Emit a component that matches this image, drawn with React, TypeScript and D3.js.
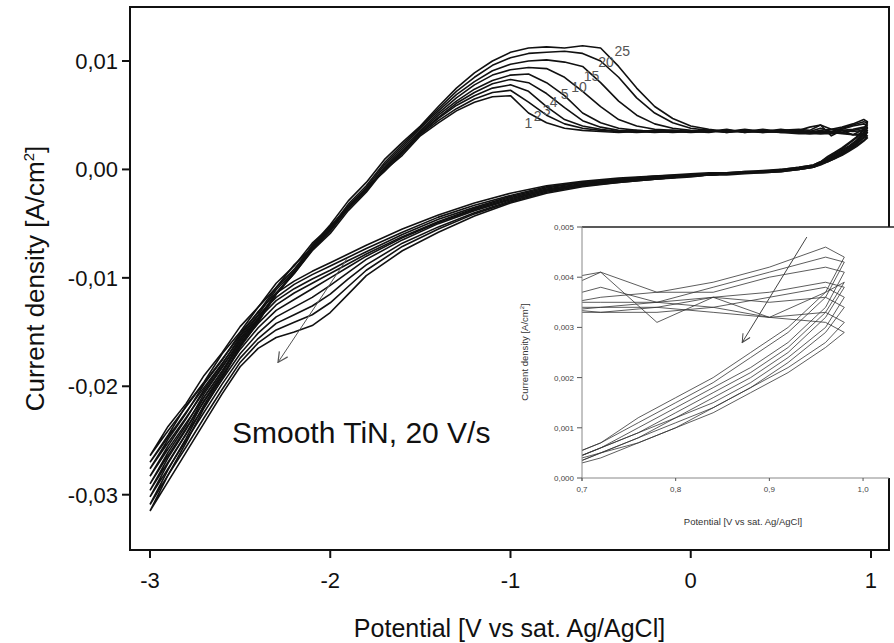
import React from 'react';
import * as d3 from 'd3';

// ---------- DATA ----------
const cycleNames = ["1", "2", "3", "4", "5", "10", "15", "20", "25"];

// potentials of the anodic (forward, -3 V -> ~1 V) half of each cycle
const anodicPotential = [
  -3.0, -2.9, -2.8, -2.7, -2.6, -2.5, -2.4, -2.3, -2.2, -2.1, -2.0, -1.9, -1.8, -1.7, -1.6,
  -1.5, -1.4, -1.3, -1.2, -1.1, -1.0, -0.9, -0.8, -0.7, -0.6, -0.5, -0.4, -0.3, -0.2, -0.1, 0.0,
  0.1, 0.2, 0.3, 0.4, 0.5, 0.6,
  0.66, 0.72, 0.78, 0.84, 0.90, 0.96, 0.98,
];

// potentials of the cathodic (reverse, ~1 V -> -3 V) half of each cycle
const cathodicPotential = [
  0.96, 0.92, 0.88, 0.84, 0.80, 0.76, 0.72, 0.68,
  0.6, 0.5, 0.4, 0.3, 0.2, 0.1, 0.0, -0.2, -0.4, -0.6, -0.8, -1.0, -1.2, -1.4, -1.6,
  -1.8, -1.9, -2.0, -2.1, -2.2, -2.3, -2.4, -2.5, -2.6, -2.7, -2.8, -2.9, -3.0,
];

const anodic1 = [
  -0.0264, -0.0237, -0.0216, -0.0190, -0.0169, -0.0145, -0.0127, -0.0105, -0.0089, -0.0068, -0.0053, -0.0034, -0.0018, -0.0001, 0.0013,
  0.0031, 0.0043, 0.0054, 0.0062, 0.0067, 0.0068, 0.0052, 0.0043, 0.0038, 0.0036, 0.0035, 0.0034, 0.0035, 0.0034, 0.0035, 0.0035,
  0.0036, 0.0035, 0.0037, 0.0035, 0.0036, 0.0037,
  0.0036, 0.0041, 0.0037, 0.0039, 0.0042, 0.0046, 0.0044,
];
const anodic2 = [
  -0.0270, -0.0245, -0.0218, -0.0196, -0.0170, -0.0150, -0.0127, -0.0109, -0.0088, -0.0072, -0.0052, -0.0036, -0.0017, -0.0002, 0.0015,
  0.0032, 0.0045, 0.0056, 0.0065, 0.0071, 0.0073, 0.0062, 0.0050, 0.0042, 0.0038, 0.0036, 0.0035, 0.0034, 0.0035, 0.0035, 0.0034,
  0.0035, 0.0036, 0.0034, 0.0036, 0.0035, 0.0036,
  0.0035, 0.0038, 0.0035, 0.0038, 0.0041, 0.0044, 0.0043,
];
const anodic3 = [
  -0.0276, -0.0249, -0.0225, -0.0198, -0.0176, -0.0151, -0.0132, -0.0109, -0.0092, -0.0071, -0.0055, -0.0035, -0.0019, 0.0001, 0.0016,
  0.0033, 0.0047, 0.0059, 0.0068, 0.0075, 0.0078, 0.0072, 0.0058, 0.0046, 0.0040, 0.0037, 0.0035, 0.0036, 0.0035, 0.0034, 0.0035,
  0.0036, 0.0034, 0.0036, 0.0035, 0.0037, 0.0035,
  0.0034, 0.0036, 0.0037, 0.0037, 0.0040, 0.0042, 0.0041,
];
const anodic4 = [
  -0.0283, -0.0255, -0.0230, -0.0203, -0.0180, -0.0154, -0.0134, -0.0111, -0.0094, -0.0073, -0.0056, -0.0036, -0.0020, 0.0001, 0.0017,
  0.0034, 0.0048, 0.0061, 0.0071, 0.0079, 0.0083, 0.0080, 0.0070, 0.0057, 0.0045, 0.0039, 0.0036, 0.0035, 0.0036, 0.0035, 0.0035,
  0.0035, 0.0036, 0.0035, 0.0037, 0.0035, 0.0036,
  0.0039, 0.0041, 0.0031, 0.0036, 0.0032, 0.0037, 0.0039,
];
const anodic5 = [
  -0.0290, -0.0261, -0.0236, -0.0207, -0.0183, -0.0157, -0.0137, -0.0114, -0.0096, -0.0075, -0.0059, -0.0038, -0.0021, 0.0000, 0.0016,
  0.0035, 0.0050, 0.0063, 0.0074, 0.0082, 0.0087, 0.0088, 0.0080, 0.0068, 0.0052, 0.0043, 0.0038, 0.0036, 0.0035, 0.0036, 0.0035,
  0.0034, 0.0036, 0.0035, 0.0034, 0.0036, 0.0035,
  0.0035, 0.0035, 0.0035, 0.0036, 0.0037, 0.0039, 0.0038,
];
const anodic10 = [
  -0.0296, -0.0266, -0.0240, -0.0210, -0.0186, -0.0159, -0.0138, -0.0115, -0.0096, -0.0074, -0.0057, -0.0036, -0.0019, 0.0002, 0.0019,
  0.0036, 0.0052, 0.0066, 0.0078, 0.0087, 0.0092, 0.0094, 0.0093, 0.0085, 0.0072, 0.0058, 0.0046, 0.0040, 0.0037, 0.0036, 0.0035,
  0.0036, 0.0034, 0.0036, 0.0035, 0.0034, 0.0035,
  0.0034, 0.0034, 0.0035, 0.0034, 0.0036, 0.0038, 0.0036,
];
const anodic15 = [
  -0.0302, -0.0271, -0.0244, -0.0213, -0.0188, -0.0161, -0.0139, -0.0115, -0.0095, -0.0073, -0.0055, -0.0034, -0.0017, 0.0004, 0.0021,
  0.0038, 0.0054, 0.0069, 0.0081, 0.0091, 0.0097, 0.0100, 0.0101, 0.0099, 0.0095, 0.0080, 0.0063, 0.0050, 0.0042, 0.0038, 0.0036,
  0.0035, 0.0037, 0.0034, 0.0036, 0.0035, 0.0034,
  0.0033, 0.0034, 0.0034, 0.0036, 0.0035, 0.0036, 0.0034,
];
const anodic20 = [
  -0.0309, -0.0277, -0.0248, -0.0217, -0.0191, -0.0163, -0.0140, -0.0115, -0.0095, -0.0072, -0.0054, -0.0032, -0.0015, 0.0006, 0.0023,
  0.0039, 0.0056, 0.0072, 0.0085, 0.0096, 0.0103, 0.0107, 0.0108, 0.0109, 0.0107, 0.0100, 0.0085, 0.0066, 0.0052, 0.0043, 0.0038,
  0.0036, 0.0035, 0.0036, 0.0034, 0.0035, 0.0034,
  0.0034, 0.0033, 0.0033, 0.0034, 0.0032, 0.0033, 0.0031,
];
const anodic25 = [
  -0.0315, -0.0282, -0.0252, -0.0220, -0.0193, -0.0164, -0.0141, -0.0115, -0.0094, -0.0070, -0.0051, -0.0029, -0.0012, 0.0009, 0.0025,
  0.0040, 0.0058, 0.0075, 0.0089, 0.0100, 0.0108, 0.0112, 0.0113, 0.0112, 0.0114, 0.0112, 0.0095, 0.0075, 0.0058, 0.0047, 0.0040,
  0.0037, 0.0035, 0.0035, 0.0036, 0.0034, 0.0033,
  0.0033, 0.0033, 0.0034, 0.0033, 0.0032, 0.0031, 0.0029,
];

const cathodic1 = [
  0.0037, 0.0030, 0.0025, 0.0020, 0.0016, 0.0012, 0.0007, 0.0004,
  0.0002, 0.0000, -0.0001, -0.0002, -0.0003, -0.0003, -0.0004, -0.0006, -0.0008, -0.0011, -0.0015, -0.0022, -0.0031, -0.0042, -0.0055,
  -0.0070, -0.0078, -0.0086, -0.0094, -0.0103, -0.0114, -0.0131, -0.0153, -0.0175, -0.0197, -0.0219, -0.0241, -0.0264,
];
const cathodic2 = [
  0.0036, 0.0029, 0.0024, 0.0019, 0.0015, 0.0011, 0.0007, 0.0004,
  0.0002, 0.0000, -0.0002, -0.0002, -0.0003, -0.0004, -0.0005, -0.0006, -0.0009, -0.0012, -0.0016, -0.0024, -0.0033, -0.0044, -0.0058,
  -0.0073, -0.0081, -0.0089, -0.0097, -0.0106, -0.0118, -0.0135, -0.0156, -0.0179, -0.0201, -0.0224, -0.0247, -0.0270,
];
const cathodic3 = [
  0.0034, 0.0027, 0.0022, 0.0018, 0.0014, 0.0010, 0.0006, 0.0003,
  0.0001, -0.0001, -0.0002, -0.0003, -0.0004, -0.0004, -0.0005, -0.0007, -0.0009, -0.0012, -0.0017, -0.0025, -0.0035, -0.0046, -0.0060,
  -0.0076, -0.0084, -0.0093, -0.0101, -0.0110, -0.0121, -0.0138, -0.0159, -0.0182, -0.0205, -0.0229, -0.0252, -0.0276,
];
const cathodic4 = [
  0.0033, 0.0026, 0.0021, 0.0017, 0.0013, 0.0009, 0.0006, 0.0003,
  0.0001, -0.0001, -0.0002, -0.0003, -0.0004, -0.0005, -0.0005, -0.0007, -0.0010, -0.0013, -0.0018, -0.0026, -0.0036, -0.0048, -0.0062,
  -0.0078, -0.0087, -0.0096, -0.0105, -0.0114, -0.0125, -0.0142, -0.0162, -0.0186, -0.0210, -0.0234, -0.0258, -0.0283,
];
const cathodic5 = [
  0.0032, 0.0025, 0.0020, 0.0016, 0.0012, 0.0009, 0.0006, 0.0003,
  0.0001, -0.0001, -0.0002, -0.0003, -0.0004, -0.0005, -0.0006, -0.0008, -0.0010, -0.0014, -0.0019, -0.0027, -0.0037, -0.0049, -0.0063,
  -0.0080, -0.0090, -0.0100, -0.0110, -0.0120, -0.0130, -0.0146, -0.0166, -0.0190, -0.0214, -0.0239, -0.0264, -0.0290,
];
const cathodic10 = [
  0.0030, 0.0024, 0.0019, 0.0015, 0.0012, 0.0008, 0.0005, 0.0003,
  0.0001, -0.0001, -0.0002, -0.0003, -0.0004, -0.0005, -0.0006, -0.0008, -0.0011, -0.0014, -0.0019, -0.0028, -0.0038, -0.0050, -0.0065,
  -0.0083, -0.0095, -0.0107, -0.0118, -0.0127, -0.0136, -0.0151, -0.0170, -0.0194, -0.0219, -0.0244, -0.0270, -0.0296,
];
const cathodic15 = [
  0.0029, 0.0023, 0.0018, 0.0014, 0.0011, 0.0008, 0.0005, 0.0002,
  0.0000, -0.0001, -0.0002, -0.0003, -0.0004, -0.0005, -0.0006, -0.0009, -0.0011, -0.0015, -0.0020, -0.0029, -0.0040, -0.0053, -0.0068,
  -0.0088, -0.0101, -0.0115, -0.0126, -0.0134, -0.0142, -0.0156, -0.0174, -0.0198, -0.0224, -0.0250, -0.0276, -0.0302,
];
const cathodic20 = [
  0.0027, 0.0022, 0.0018, 0.0014, 0.0010, 0.0007, 0.0005, 0.0002,
  0.0000, -0.0002, -0.0003, -0.0003, -0.0004, -0.0005, -0.0006, -0.0009, -0.0012, -0.0015, -0.0021, -0.0030, -0.0041, -0.0055, -0.0071,
  -0.0093, -0.0108, -0.0123, -0.0134, -0.0141, -0.0148, -0.0160, -0.0178, -0.0203, -0.0229, -0.0256, -0.0282, -0.0309,
];
const cathodic25 = [
  0.0026, 0.0021, 0.0017, 0.0013, 0.0010, 0.0007, 0.0004, 0.0002,
  0.0000, -0.0002, -0.0003, -0.0004, -0.0005, -0.0005, -0.0007, -0.0009, -0.0012, -0.0016, -0.0022, -0.0031, -0.0043, -0.0058, -0.0075,
  -0.0098, -0.0115, -0.0132, -0.0144, -0.0150, -0.0155, -0.0165, -0.0182, -0.0207, -0.0234, -0.0261, -0.0288, -0.0315,
];

const anodicSeries = [anodic1, anodic2, anodic3, anodic4, anodic5, anodic10, anodic15, anodic20, anodic25];
const cathodicSeries = [cathodic1, cathodic2, cathodic3, cathodic4, cathodic5, cathodic10, cathodic15, cathodic20, cathodic25];

// cycle-number labels (data coordinates)
const labelPotential = [-0.90, -0.85, -0.80, -0.76, -0.70, -0.62, -0.55, -0.47, -0.38];
const labelCurrent = [0.0043, 0.0049, 0.0055, 0.0062, 0.0070, 0.0076, 0.0086, 0.0099, 0.0109];

// arrows (from, to) in data coordinates
const mainArrowPotential = [-1.91, -2.29];
const mainArrowCurrent = [-0.0083, -0.0178];
const insetArrowPotential = [0.94, 0.871];
const insetArrowCurrent = [0.0048, 0.0027];

// ticks
const xTicks = [-3, -2, -1, 0, 1];
const yTicks = [0.01, 0.0, -0.01, -0.02, -0.03];
const insetXTicks = [0.7, 0.8, 0.9, 1.0];
const insetYTicks = [0.0, 0.001, 0.002, 0.003, 0.004, 0.005];

const annotation = "Smooth TiN, 20 V/s";

// ---------- CHART ----------
const FONT = "'Liberation Sans', Arial, Helvetica, sans-serif";

function fmt(v: number, d: number) {
  return d3.format(`.${d}f`)(v).replace('.', ',').replace('\u2212', '-');
}

export default function App() {
  const W = 894, H = 643;
  const L = 130, R = 889, T = 7, B = 550;
  const x = d3.scaleLinear().domain([-3.111, 1.1]).range([L, R]);
  const y = d3.scaleLinear().domain([-0.0351, 0.01498]).range([B, T]);

  const iL = 582, iR = 889, iT = 227, iB = 478;
  const xi = d3.scaleLinear().domain([0.7, 1.0277]).range([iL, iR]);
  const yi = d3.scaleLinear().domain([0, 0.005]).range([iB, iT]);

  const cycles = cycleNames.map((name, k) => {
    const a = anodicSeries[k];
    const c = cathodicSeries[k];
    const pts: [number, number][] = [];
    anodicPotential.forEach((v, i) => { if (i < a.length) pts.push([v, a[i]]); });
    cathodicPotential.forEach((v, i) => { if (i < c.length) pts.push([v, c[i]]); });
    return { name, pts };
  });

  const mainLine = d3.line<[number, number]>().x(d => x(d[0])).y(d => y(d[1]));
  const insetLine = d3.line<[number, number]>().x(d => xi(d[0])).y(d => yi(d[1]));

  return (
    <div style={{ position: 'absolute', left: 0, top: 0 }}>
      <svg width={W} height={H} style={{ display: 'block', background: '#fff' }} fontFamily={FONT}>
        <defs>
          <clipPath id="mainClip"><rect x={L} y={T} width={R - L} height={B - T} /></clipPath>
          <clipPath id="insetClip"><rect x={iL} y={iT} width={iR - iL} height={iB - iT} /></clipPath>
          <marker id="arrowHead" viewBox="0 0 12 12" refX="11" refY="6" markerWidth="12" markerHeight="12" orient="auto" markerUnits="userSpaceOnUse">
            <path d="M1,1 L11,6 L1,11" fill="none" stroke="#555" strokeWidth="1.2" />
          </marker>
          <marker id="arrowHeadSmall" viewBox="0 0 12 12" refX="11" refY="6" markerWidth="10" markerHeight="10" orient="auto" markerUnits="userSpaceOnUse">
            <path d="M1,1 L11,6 L1,11" fill="none" stroke="#444" strokeWidth="1.2" />
          </marker>
        </defs>

        {/* main curves */}
        <g clipPath="url(#mainClip)">
          {cycles.map(c => (
            <path key={c.name} d={mainLine(c.pts) || ''} fill="none" stroke="#111" strokeWidth={1.6} strokeLinejoin="round" />
          ))}
        </g>

        {/* main arrow */}
        <line x1={x(mainArrowPotential[0])} y1={y(mainArrowCurrent[0])} x2={x(mainArrowPotential[1])} y2={y(mainArrowCurrent[1])}
          stroke="#555" strokeWidth={1} markerEnd="url(#arrowHead)" />

        {/* cycle labels */}
        {cycleNames.map((n, i) => (
          <text key={n} x={x(labelPotential[i])} y={y(labelCurrent[i])} fontSize={14} fill="#555" textAnchor="middle" dominantBaseline="central">{n}</text>
        ))}

        {/* frame */}
        <rect x={L} y={T} width={R - L} height={B - T} fill="none" stroke="#111" strokeWidth={2} />

        {/* x ticks */}
        {xTicks.map(t => (
          <g key={t}>
            <line x1={x(t)} x2={x(t)} y1={B} y2={B + 8} stroke="#111" strokeWidth={2} />
            <text x={x(t)} y={B + 38} fontSize={22} textAnchor="middle" fill="#111">{String(t)}</text>
          </g>
        ))}
        {/* y ticks */}
        {yTicks.map(t => (
          <g key={t}>
            <line x1={L - 8} x2={L} y1={y(t)} y2={y(t)} stroke="#111" strokeWidth={2} />
            <text x={L - 12} y={y(t) + 8} fontSize={22} textAnchor="end" fill="#111">{fmt(t, 2)}</text>
          </g>
        ))}

        {/* axis titles */}
        <text x={(L + R) / 2} y={637} fontSize={25} textAnchor="middle" fill="#111">Potential [V vs sat. Ag/AgCl]</text>
        <text transform={`translate(44,${(T + B) / 2}) rotate(-90)`} fontSize={26} textAnchor="middle" fill="#111">
          Current density [A/cm<tspan dy={-10} fontSize={15}>2</tspan><tspan dy={10}>]</tspan>
        </text>

        {/* annotation */}
        <text x={232} y={443} fontSize={30} fill="#111">{annotation}</text>

        {/* ---------- inset ---------- */}
        <rect x={iL} y={iT} width={W - iL} height={iB - iT} fill="#fff" />
        <g clipPath="url(#insetClip)">
          {cycles.map(c => (
            <path key={c.name} d={insetLine(c.pts) || ''} fill="none" stroke="#333" strokeWidth={0.8} strokeLinejoin="round" />
          ))}
        </g>
        <line x1={xi(insetArrowPotential[0])} y1={yi(insetArrowCurrent[0])} x2={xi(insetArrowPotential[1])} y2={yi(insetArrowCurrent[1])}
          stroke="#444" strokeWidth={1} markerEnd="url(#arrowHeadSmall)" />

        <line x1={iL} x2={W} y1={iT} y2={iT} stroke="#222" strokeWidth={1.6} />
        <line x1={iL} x2={iL} y1={iT} y2={iB + 3} stroke="#888" strokeWidth={1} />
        <line x1={iL} x2={R} y1={iB} y2={iB} stroke="#888" strokeWidth={1} />

        {insetYTicks.map(t => (
          <g key={t}>
            <line x1={iL - 5} x2={iL} y1={yi(t)} y2={yi(t)} stroke="#555" strokeWidth={1} />
            <text x={iL - 8} y={yi(t) + 3} fontSize={8} textAnchor="end" fill="#444">{fmt(t, 3)}</text>
          </g>
        ))}
        {insetXTicks.map(t => (
          <g key={t}>
            <line x1={xi(t)} x2={xi(t)} y1={iB} y2={iB + 3} stroke="#555" strokeWidth={1} />
            <text x={xi(t)} y={iB + 14} fontSize={8} textAnchor="middle" fill="#444">{fmt(t, 1)}</text>
          </g>
        ))}
        <text x={743} y={525} fontSize={9.5} textAnchor="middle" fill="#333">Potential [V vs sat. Ag/AgCl]</text>
        <text transform={`translate(528,352) rotate(-90)`} fontSize={9.5} textAnchor="middle" fill="#333">
          Current density [A/cm<tspan dy={-4} fontSize={6}>2</tspan><tspan dy={4}>]</tspan>
        </text>
      </svg>
    </div>
  );
}
